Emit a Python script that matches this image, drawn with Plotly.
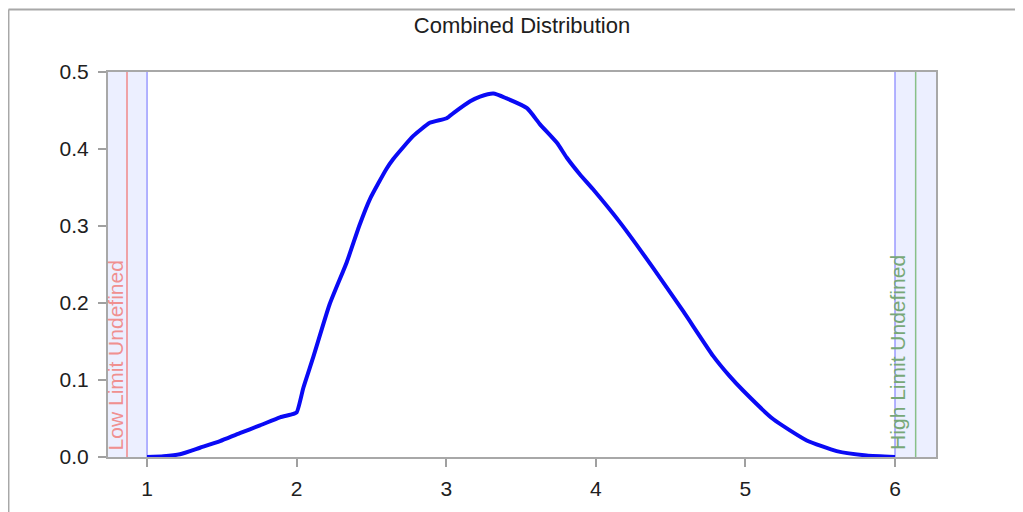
import plotly.graph_objects as go

# ---- data ----
x_vals = [1.0, 1.11, 1.22, 1.354, 1.488, 1.62, 1.755, 1.889, 1.96, 2.0, 2.045, 2.11, 2.22,
          2.335, 2.42, 2.49, 2.60, 2.646, 2.78, 2.89, 3.003, 3.05, 3.16, 3.226, 3.315,
          3.40, 3.54, 3.627, 3.74, 3.805, 3.894, 3.98, 4.16, 4.385, 4.585, 4.785, 4.89, 4.986,
          5.187, 5.41, 5.61, 5.81, 6.0]
y_vals = [0.0, 0.001, 0.0035, 0.012, 0.0206, 0.031, 0.041, 0.0515, 0.055, 0.058, 0.090, 0.129,
          0.198, 0.253, 0.301, 0.335, 0.374, 0.387, 0.417, 0.434, 0.440, 0.447, 0.462, 0.468,
          0.472, 0.466, 0.453, 0.432, 0.408, 0.389, 0.367, 0.348, 0.305, 0.245, 0.189,
          0.131, 0.106, 0.086, 0.049, 0.0215, 0.0077, 0.002, 0.0]

x_range = [0.739, 6.274]
y_range = [0.0, 0.5]
low_bound = 1.0
high_bound = 6.0
low_limit_line = 0.866
high_limit_line = 6.138
x_ticks = [1, 2, 3, 4, 5, 6]
y_ticks = [0.0, 0.1, 0.2, 0.3, 0.4, 0.5]
title_text = "Combined Distribution"
low_text = "Low Limit Undefined"
high_text = "High Limit Undefined"

FONT = "Liberation Sans"

fig = go.Figure()
fig.add_trace(go.Scatter(x=x_vals, y=y_vals, mode="lines",
                         line=dict(color="#0A0AF5", width=4, shape="spline", smoothing=0.5),
                         showlegend=False, hoverinfo="x+y"))

shapes = [
    dict(type="rect", xref="x", yref="y", x0=x_range[0], x1=low_bound, y0=y_range[0], y1=y_range[1],
         fillcolor="#ECEFFF", line=dict(width=0), layer="below"),
    dict(type="rect", xref="x", yref="y", x0=high_bound, x1=x_range[1], y0=y_range[0], y1=y_range[1],
         fillcolor="#ECEFFF", line=dict(width=0), layer="below"),
    dict(type="line", xref="x", yref="y", x0=low_bound, x1=low_bound, y0=y_range[0], y1=y_range[1],
         line=dict(color="#9A9AFF", width=1.5), layer="below"),
    dict(type="line", xref="x", yref="y", x0=high_bound, x1=high_bound, y0=y_range[0], y1=y_range[1],
         line=dict(color="#9A9AFF", width=1.5), layer="below"),
    dict(type="line", xref="x", yref="y", x0=low_limit_line, x1=low_limit_line, y0=y_range[0], y1=y_range[1],
         line=dict(color="#F08888", width=1.5), layer="below"),
    dict(type="line", xref="x", yref="y", x0=high_limit_line, x1=high_limit_line, y0=y_range[0], y1=y_range[1],
         line=dict(color="#88C088", width=1.5), layer="below"),
    # outer frame (top and left)
    dict(type="line", xref="paper", yref="paper", x0=-0.1202, x1=1.2, y0=1.1624, y1=1.1624,
         line=dict(color="#A8A8A8", width=2)),
    dict(type="line", xref="paper", yref="paper", x0=-0.1202, x1=-0.1202, y0=1.1624, y1=-0.25,
         line=dict(color="#A8A8A8", width=2)),
]

annotations = [
    dict(text=low_text, x=0.786, y=0.006, xref="x", yref="y", xanchor="center", yanchor="bottom",
         textangle=-90, showarrow=False, font=dict(color="#F09090", size=21, family=FONT)),
    dict(text=high_text, x=6.02, y=0.006, xref="x", yref="y", xanchor="center", yanchor="bottom",
         textangle=-90, showarrow=False, font=dict(color="#78A878", size=21, family=FONT)),
]

fig.update_layout(
    width=1015, height=504,
    margin=dict(l=100, r=87, t=64, b=52),
    paper_bgcolor="white", plot_bgcolor="white",
    title=dict(text=title_text, x=0.5, xref="paper", xanchor="center", y=0.966, yanchor="middle",
               font=dict(size=22, color="#202020", family=FONT)),
    shapes=shapes, annotations=annotations,
    font=dict(family=FONT, color="#202020"),
)
fig.update_xaxes(range=x_range, tickvals=x_ticks, ticktext=[str(t) for t in x_ticks],
                 ticks="outside", ticklen=8, tickcolor="#A0A0A0", tickwidth=1.5,
                 showgrid=False, zeroline=False, showline=True, linecolor="#A8A8A8", linewidth=2,
                 mirror=True, tickfont=dict(size=21), ticklabelstandoff=4)
fig.update_yaxes(range=y_range, tickvals=y_ticks, ticktext=[f"{t:.1f}" for t in y_ticks],
                 ticks="outside", ticklen=8, tickcolor="#A0A0A0", tickwidth=1.5,
                 showgrid=False, zeroline=False, showline=True, linecolor="#A8A8A8", linewidth=2,
                 mirror=True, tickfont=dict(size=21), ticklabelstandoff=5)

fig.write_html("out.html")
